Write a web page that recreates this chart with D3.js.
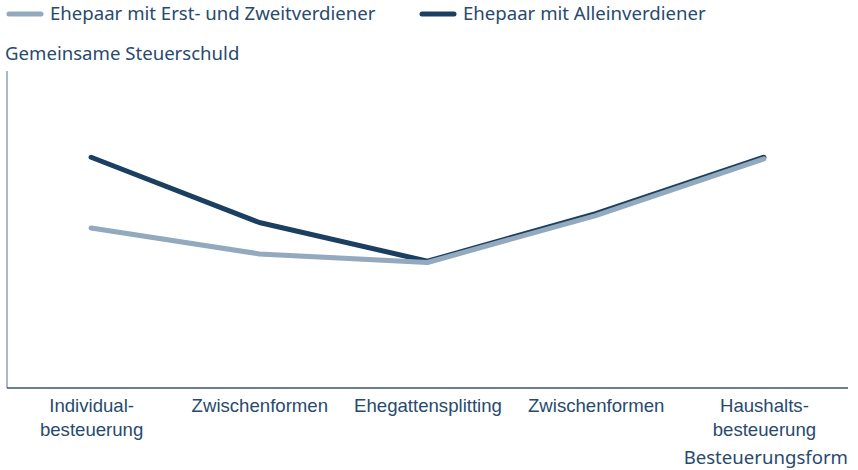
<!DOCTYPE html>
<html lang="de">
<head>
<meta charset="UTF-8">
<title>Steuerschuld</title>
<script src="https://cdnjs.cloudflare.com/ajax/libs/d3/7.9.0/d3.min.js"></script>
<style>
  body { margin: 0; background: #fff; }
  svg { font-family: 'Noto Sans', sans-serif; display: block; }
  text { fill: #284a6e; }
</style>
</head>
<body>
<div id="chart"></div>
<script>
const categories = ['Individual-\nbesteuerung', 'Zwischenformen', 'Ehegattensplitting', 'Zwischenformen ', 'Haushalts-\nbesteuerung']
const seriesNames = ['Ehepaar mit Erst- und Zweitverdiener', 'Ehepaar mit Alleinverdiener']
const alleinValues = [72.8, 52.2, 40, 55, 72.8]
const zweiValues = [50.5, 42.3, 39.6, 54.4, 72.3]

const W = 858, H = 470
const plot = { left: 7, right: 848, top: 71, bottom: 388 }
const colors = { zwei: '#93a9be', allein: '#1b3f61' }
const fontSize = '18.6px'

const svg = d3.select('#chart').append('svg')
  .attr('width', W).attr('height', H)

const x = d3.scalePoint().domain(categories).range([plot.left, plot.right]).padding(0.5)
const y = d3.scaleLinear().domain([0, 100]).range([plot.bottom, plot.top])

// axes
svg.append('line')
  .attr('x1', plot.left).attr('x2', plot.left)
  .attr('y1', plot.top).attr('y2', plot.bottom)
  .attr('stroke', '#8fa1b4').attr('stroke-width', 1.5)

const xAxis = svg.append('g')
  .attr('transform', `translate(0,${plot.bottom})`)
  .call(d3.axisBottom(x).tickSize(0).tickPadding(0))
xAxis.select('.domain').attr('stroke', '#3d536b').attr('stroke-width', 1.5)
  .attr('d', `M${plot.left},0H${plot.right}`)
xAxis.selectAll('.tick text').remove()
xAxis.selectAll('.tick').each(function (d) {
  const lines = d.trim().split('\n')
  const t = d3.select(this).append('text')
    .attr('text-anchor', 'middle')
    .style('font-size', fontSize)
  lines.forEach((l, i) => {
    t.append('tspan').attr('x', 0).attr('y', 24 + i * 24).text(l)
  })
})

// lines
const line = d3.line()
  .x((d, i) => x(categories[i]))
  .y(d => y(d))

svg.append('path').datum(alleinValues)
  .attr('d', line).attr('fill', 'none')
  .attr('stroke', colors.allein).attr('stroke-width', 5)
  .attr('stroke-linecap', 'round').attr('stroke-linejoin', 'round')
svg.append('path').datum(zweiValues)
  .attr('d', line).attr('fill', 'none')
  .attr('stroke', colors.zwei).attr('stroke-width', 5)
  .attr('stroke-linecap', 'round').attr('stroke-linejoin', 'round')

// legend
const legendX = [9, 422]
seriesNames.forEach((name, i) => {
  const g = svg.append('g').attr('transform', `translate(${legendX[i]},14)`)
  g.append('line').attr('x1', 0).attr('x2', 32)
    .attr('stroke', i === 0 ? colors.zwei : colors.allein)
    .attr('stroke-width', 5).attr('stroke-linecap', 'round')
  g.append('text').attr('x', 41).attr('y', 6)
    .style('font-size', fontSize).text(name)
})

// axis titles
svg.append('text').attr('x', 5).attr('y', 60)
  .style('font-size', fontSize).text('Gemeinsame Steuerschuld')
svg.append('text').attr('x', 848).attr('y', 464)
  .attr('text-anchor', 'end')
  .style('font-size', fontSize).text('Besteuerungsform')
</script>
</body>
</html>
